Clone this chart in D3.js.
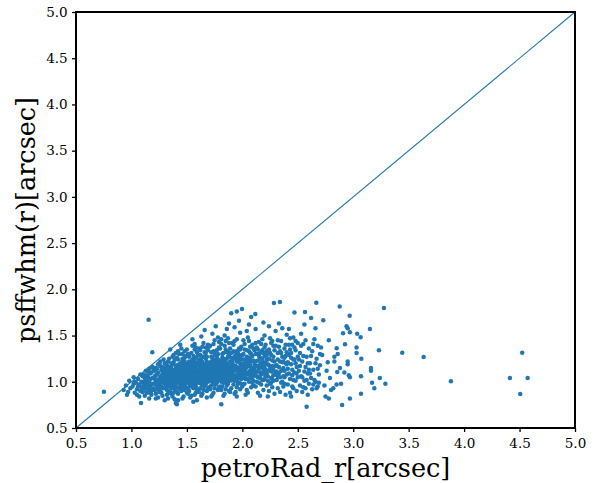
<!DOCTYPE html>
<html><head><meta charset="utf-8">
<script src="https://cdn.jsdelivr.net/npm/d3@7"></script>
<style>body{margin:0;background:#fff}svg{display:block}</style>
</head><body><svg id="c" width="602" height="483"></svg>
<script>
const xTicks=[0.5,1.0,1.5,2.0,2.5,3.0,3.5,4.0,4.5,5.0];
const yTicks=[0.5,1.0,1.5,2.0,2.5,3.0,3.5,4.0,4.5,5.0];
const xLabel="petroRad_r[arcsec]";
const yLabel="psffwhm(r)[arcsec]";
const diagonal=[[0.5,0.5],[5.0,5.0]];
const samples=[
[0.93,0.91],[0.95,0.96],[0.97,0.89],[0.98,1.01],[0.99,0.93],[0.96,0.86],
[1.01,0.95],[1.02,1.05],[1.03,0.88],[1.04,0.99],[1.05,0.92],[1.06,1.03],[1.07,0.84],[1.07,0.97],[1.08,1.08],[1.08,0.90],[1.09,1.00],[1.09,0.94],[1.05,0.86],[1.02,0.98],[1.10,0.89],[1.10,1.06],[1.03,1.00],[1.06,0.95],
[1.11,0.97],[1.11,1.08],[1.12,0.85],[1.12,0.93],[1.13,1.02],[1.13,1.12],[1.14,0.88],[1.14,0.99],[1.15,1.05],[1.15,0.91],[1.16,1.14],[1.16,0.82],[1.17,0.96],[1.17,1.03],[1.18,0.90],[1.18,1.10],[1.19,0.98],[1.19,1.16],[1.12,1.00],[1.14,1.07],[1.16,0.94],[1.18,0.86],[1.11,0.90],[1.13,0.95],[1.15,1.11],[1.17,0.88],[1.19,1.04],[1.20,0.93],[1.20,1.13],[1.16,1.00],
[1.21,0.98],[1.21,1.06],[1.22,0.87],[1.22,1.15],[1.23,0.92],[1.23,1.02],[1.24,1.10],[1.24,0.83],[1.25,0.97],[1.25,1.20],[1.26,0.90],[1.26,1.05],[1.27,1.13],[1.27,0.95],[1.28,0.85],[1.28,1.01],[1.29,1.09],[1.29,1.24],[1.21,0.91],[1.22,1.00],[1.23,1.08],[1.24,0.95],[1.25,1.03],[1.26,1.17],[1.27,0.88],[1.28,1.11],[1.29,0.93],[1.30,1.04],[1.30,0.98],[1.22,0.82],[1.24,1.19],[1.26,0.99],[1.28,1.06],[1.23,0.96],[1.25,0.89],[1.27,1.02],[1.29,1.15],[1.21,1.12],[1.30,0.80],[1.26,1.22],
[1.31,1.07],[1.31,0.93],[1.32,1.18],[1.32,0.86],[1.33,1.00],[1.33,1.12],[1.34,0.95],[1.34,1.25],[1.35,1.05],[1.35,0.89],[1.36,1.15],[1.36,0.98],[1.37,1.09],[1.37,0.84],[1.38,1.21],[1.38,1.02],[1.39,0.92],[1.39,1.13],[1.40,1.31],[1.40,1.06],[1.31,1.01],[1.32,1.10],[1.33,0.90],[1.34,1.04],[1.35,1.16],[1.36,0.87],[1.37,1.00],[1.38,0.95],[1.39,1.08],[1.31,0.97],[1.33,1.22],[1.35,0.99],[1.37,1.27],[1.39,0.81],[1.32,1.03],[1.34,1.13],[1.36,1.06],[1.38,1.11],[1.40,0.94],[1.35,1.35],[1.33,0.82],[1.37,1.19],[1.39,1.01],[1.31,1.14],[1.36,0.93],[1.38,0.88],[1.34,1.09],[1.40,1.17],[1.32,0.96],[1.36,1.03],
[1.41,0.99],[1.41,1.12],[1.42,0.87],[1.42,1.24],[1.43,1.05],[1.43,0.93],[1.44,1.17],[1.44,1.01],[1.45,0.90],[1.45,1.36],[1.46,1.08],[1.46,0.96],[1.47,1.20],[1.47,0.84],[1.48,1.03],[1.48,1.14],[1.49,0.94],[1.49,1.28],[1.50,1.06],[1.50,0.88],[1.41,1.04],[1.42,1.09],[1.43,1.30],[1.44,0.92],[1.45,1.11],[1.46,1.02],[1.47,0.98],[1.48,1.22],[1.49,1.10],[1.42,0.80],[1.44,1.07],[1.46,1.15],[1.48,0.91],[1.50,1.00],[1.41,1.18],[1.43,0.99],[1.45,1.03],[1.47,1.12],[1.49,1.05],[1.41,0.89],[1.43,1.14],[1.45,0.95],[1.47,1.06],[1.49,0.99],[1.44,1.40],[1.46,0.82],[1.48,1.33],[1.42,1.02],[1.50,1.19],[1.40,0.77],[1.46,1.25],[1.43,1.09],[1.47,0.93],[1.49,1.16],[1.41,1.26],
[1.51,1.02],[1.51,1.13],[1.52,0.90],[1.52,1.27],[1.53,1.07],[1.53,0.96],[1.54,1.18],[1.54,0.85],[1.55,1.01],[1.55,1.39],[1.56,1.10],[1.56,0.93],[1.57,1.22],[1.57,1.04],[1.58,0.88],[1.58,1.15],[1.59,0.99],[1.59,1.32],[1.60,1.08],[1.60,0.91],[1.51,1.08],[1.52,0.98],[1.53,1.20],[1.54,1.05],[1.55,0.94],[1.56,1.16],[1.57,0.97],[1.58,1.03],[1.59,1.12],[1.51,0.93],[1.53,1.11],[1.55,1.24],[1.57,0.86],[1.59,1.06],[1.52,1.05],[1.54,1.12],[1.56,1.00],[1.58,1.09],[1.60,1.21],[1.51,1.30],[1.53,0.83],[1.55,1.07],[1.57,1.14],[1.59,0.92],[1.52,1.16],[1.54,0.97],[1.56,1.04],[1.58,1.26],[1.60,1.01],[1.55,1.46],[1.57,1.35],[1.53,1.02],[1.59,0.80],[1.51,0.87],[1.56,1.22],[1.58,0.95],
[1.61,1.05],[1.61,1.17],[1.62,0.93],[1.62,1.29],[1.63,1.09],[1.63,0.98],[1.64,1.21],[1.64,0.87],[1.65,1.03],[1.65,1.42],[1.66,1.12],[1.66,0.95],[1.67,1.25],[1.67,1.06],[1.68,0.90],[1.68,1.18],[1.69,1.00],[1.69,1.34],[1.70,1.10],[1.70,0.94],[1.61,0.99],[1.62,1.11],[1.63,1.23],[1.64,1.04],[1.65,0.91],[1.66,1.19],[1.67,1.01],[1.68,1.08],[1.69,1.15],[1.61,1.36],[1.63,0.85],[1.65,1.13],[1.67,0.97],[1.69,1.05],[1.62,1.02],[1.64,1.14],[1.66,1.07],[1.68,1.27],[1.70,1.02],[1.61,0.89],[1.63,1.16],[1.65,1.08],[1.67,1.31],[1.69,0.92],[1.62,1.20],[1.64,0.96],[1.66,1.00],[1.68,1.12],[1.70,1.19],[1.63,1.49],[1.66,1.56],[1.64,1.38],[1.68,0.83],[1.62,1.07],[1.67,1.15],[1.69,1.40],[1.61,1.24],
[1.71,1.08],[1.71,1.20],[1.72,0.96],[1.72,1.32],[1.73,1.11],[1.73,1.00],[1.74,1.24],[1.74,0.88],[1.75,1.05],[1.75,1.45],[1.76,1.14],[1.76,0.97],[1.77,1.28],[1.77,1.07],[1.78,0.91],[1.78,1.19],[1.79,1.02],[1.79,1.37],[1.80,1.12],[1.80,0.95],[1.71,1.01],[1.72,1.13],[1.73,1.26],[1.74,1.06],[1.75,0.93],[1.76,1.21],[1.77,1.03],[1.78,1.10],[1.79,1.17],[1.71,1.39],[1.73,0.86],[1.75,1.15],[1.77,0.99],[1.79,1.07],[1.72,1.04],[1.74,1.16],[1.76,1.09],[1.78,1.30],[1.80,1.03],[1.71,0.92],[1.73,1.18],[1.75,1.10],[1.77,1.34],[1.79,0.94],[1.72,1.22],[1.74,0.98],[1.76,1.02],[1.78,1.14],[1.80,1.23],[1.73,1.52],[1.76,1.60],[1.78,1.48],[1.72,0.84],[1.77,1.17],[1.79,1.43],
[1.81,1.06],[1.81,1.19],[1.82,0.95],[1.82,1.30],[1.83,1.10],[1.83,0.99],[1.84,1.23],[1.84,0.87],[1.85,1.04],[1.85,1.44],[1.86,1.13],[1.86,0.96],[1.87,1.27],[1.87,1.08],[1.88,0.90],[1.88,1.18],[1.89,1.01],[1.89,1.36],[1.90,1.11],[1.90,0.93],[1.81,1.00],[1.82,1.12],[1.83,1.25],[1.84,1.05],[1.85,0.92],[1.86,1.20],[1.87,1.02],[1.88,1.09],[1.89,1.16],[1.81,1.41],[1.83,0.85],[1.85,1.14],[1.87,0.98],[1.89,1.06],[1.82,1.03],[1.84,1.15],[1.86,1.08],[1.88,1.29],[1.90,1.04],[1.81,0.91],[1.83,1.17],[1.85,1.09],[1.87,1.33],[1.89,0.89],[1.84,1.50],[1.86,1.57],[1.88,1.63],[1.82,1.21],[1.87,1.47],[1.90,1.26],
[1.91,1.09],[1.91,1.21],[1.92,0.97],[1.92,1.33],[1.93,1.12],[1.93,1.01],[1.94,1.25],[1.94,0.89],[1.95,1.06],[1.95,1.46],[1.96,1.15],[1.96,0.98],[1.97,1.29],[1.97,1.10],[1.98,0.92],[1.98,1.20],[1.99,1.03],[1.99,1.38],[2.00,1.13],[2.00,0.95],[1.91,1.02],[1.92,1.14],[1.93,1.27],[1.94,1.07],[1.95,0.94],[1.96,1.22],[1.97,1.04],[1.98,1.11],[1.99,1.18],[1.91,1.42],[1.93,0.87],[1.95,1.16],[1.97,0.99],[1.99,1.08],[1.92,1.05],[1.94,1.17],[1.96,1.31],[1.98,1.53],[2.00,1.06],[1.93,1.59],[1.97,1.66],[1.95,0.84],[1.99,1.24],
[2.01,1.10],[2.01,1.24],[2.02,0.98],[2.02,1.35],[2.03,1.14],[2.03,1.03],[2.04,1.27],[2.04,0.91],[2.05,1.08],[2.05,1.48],[2.06,1.17],[2.06,1.00],[2.07,1.31],[2.07,1.12],[2.08,0.94],[2.08,1.22],[2.09,1.05],[2.09,1.40],[2.10,1.15],[2.10,0.96],[2.01,1.04],[2.03,1.19],[2.05,0.88],[2.07,1.07],[2.09,1.28],[2.02,1.11],[2.04,1.55],[2.06,1.62],[2.08,1.70],[2.10,1.01],[2.03,0.86],[2.06,1.26],[2.08,1.09],[2.01,1.45],[2.05,1.21],
[2.11,1.07],[2.11,1.19],[2.12,0.95],[2.12,1.30],[2.13,1.11],[2.13,1.00],[2.14,1.23],[2.14,0.88],[2.15,1.14],[2.15,1.43],[2.16,1.04],[2.16,1.26],[2.17,0.97],[2.17,1.16],[2.18,1.34],[2.18,1.02],[2.19,1.21],[2.19,0.91],[2.20,1.09],[2.20,1.50],[2.11,1.12],[2.13,1.37],[2.15,0.99],[2.17,1.08],[2.19,1.13],[2.12,1.57],[2.14,1.05],[2.16,0.85],[2.18,1.18],[2.20,1.28],
[2.21,1.06],[2.21,1.20],[2.22,0.96],[2.22,1.33],[2.23,1.12],[2.23,1.01],[2.24,1.25],[2.24,0.90],[2.25,1.15],[2.25,1.47],[2.26,1.04],[2.26,1.29],[2.27,0.94],[2.27,1.17],[2.28,1.39],[2.28,1.07],[2.29,1.22],[2.29,0.87],[2.30,1.10],[2.30,1.55],[2.22,1.09],[2.24,1.60],[2.26,0.99],[2.28,1.13],[2.23,0.84],[2.27,1.03],
[2.31,1.02],[2.31,1.18],[2.32,0.93],[2.32,1.31],[2.33,1.09],[2.34,1.22],[2.34,0.89],[2.35,1.12],[2.35,1.44],[2.36,1.00],[2.36,1.27],[2.37,0.95],[2.37,1.15],[2.38,1.36],[2.38,1.05],[2.39,1.20],[2.39,0.86],[2.40,1.08],[2.40,1.51],[2.33,1.63],[2.36,1.58],[2.38,0.98],[2.32,1.06],
[2.41,1.14],[2.41,0.97],[2.42,1.29],[2.43,1.03],[2.43,0.88],[2.44,1.19],[2.45,1.40],[2.45,1.07],[2.46,0.93],[2.47,1.24],[2.47,1.10],[2.48,1.01],[2.48,1.34],[2.49,0.90],[2.49,1.16],[2.50,1.05],[2.42,1.57],[2.46,1.48],[2.44,0.84],[2.50,1.27],
[2.51,1.12],[2.52,0.96],[2.52,1.31],[2.53,1.06],[2.54,1.22],[2.54,0.89],[2.55,1.41],[2.56,1.01],[2.57,1.16],[2.57,0.93],[2.58,1.27],[2.59,1.09],[2.59,0.86],[2.60,1.36],[2.53,1.52],[2.56,1.62],[2.58,0.73],[2.60,0.98],
[2.61,1.20],[2.62,1.04],[2.63,1.33],[2.63,0.92],[2.64,1.13],[2.65,1.46],[2.66,1.00],[2.67,1.25],[2.68,0.95],[2.68,1.39],[2.69,1.08],[2.70,1.18],[2.66,1.58],[2.69,0.99],[2.62,1.69],
[2.73,1.665],[2.75,0.84],[2.78,0.82],[2.74,0.96],[2.79,1.04],[2.72,1.29],[2.76,1.12],[2.78,1.45],[2.71,1.37],[2.77,1.21]
];
const samplesCore=[
[1.12,1.04],[1.14,0.96],[1.17,1.09],[1.19,0.92],[1.21,1.03],[1.23,1.14],[1.25,0.93],[1.27,1.07],[1.29,0.99],[1.22,1.07],[1.24,1.01],[1.26,0.94],[1.28,1.16],[1.30,1.12],[1.30,1.20],
[1.31,1.04],[1.32,0.91],[1.33,1.07],[1.34,0.99],[1.35,1.10],[1.36,1.20],[1.37,0.96],[1.38,1.06],[1.39,0.97],[1.40,1.10],[1.31,1.20],[1.33,1.15],[1.35,1.02],[1.37,1.12],[1.39,1.24],[1.32,1.13],[1.34,0.88],[1.36,1.10],[1.38,1.00],[1.40,1.02],
[1.41,1.07],[1.42,1.15],[1.43,1.02],[1.44,0.97],[1.45,1.21],[1.46,1.11],[1.47,1.02],[1.48,0.97],[1.49,1.13],[1.50,1.09],[1.41,0.94],[1.43,1.19],[1.45,1.07],[1.47,1.16],[1.49,1.02],[1.42,1.05],[1.44,1.12],[1.46,0.99],[1.48,1.07],[1.50,1.14],
[1.51,1.05],[1.52,1.10],[1.53,0.99],[1.54,1.08],[1.55,1.13],[1.56,0.97],[1.57,1.08],[1.58,1.19],[1.59,1.03],[1.60,1.12],[1.51,1.17],[1.53,1.04],[1.55,1.18],[1.57,1.01],[1.59,1.09],[1.52,1.01],[1.54,1.21],[1.56,1.13],[1.58,1.06],[1.60,1.04],[1.55,0.98],[1.57,1.26],[1.53,1.14],
[1.61,1.09],[1.62,1.14],[1.63,1.02],[1.64,1.10],[1.65,1.18],[1.66,1.04],[1.67,1.10],[1.68,1.02],[1.69,1.20],[1.70,1.06],[1.61,1.02],[1.63,1.12],[1.65,0.97],[1.67,1.19],[1.69,1.11],[1.62,1.24],[1.64,1.00],[1.66,1.15],[1.68,1.05],[1.70,1.14],[1.65,1.27],[1.63,1.06],
[1.71,1.11],[1.72,1.17],[1.73,1.05],[1.74,1.12],[1.75,1.20],[1.76,1.06],[1.77,1.12],[1.78,1.03],[1.79,1.22],[1.80,1.08],[1.71,1.04],[1.73,1.14],[1.75,0.99],[1.77,1.24],[1.79,1.12],[1.72,1.08],[1.74,1.02],[1.76,1.17],[1.78,1.07],[1.80,1.16],[1.75,1.30],[1.74,1.33],
[1.81,1.10],[1.82,1.16],[1.83,1.04],[1.84,1.11],[1.85,1.19],[1.86,1.04],[1.87,1.13],[1.88,1.02],[1.89,1.22],[1.90,1.07],[1.81,1.14],[1.83,1.21],[1.85,0.99],[1.87,1.17],[1.89,1.11],[1.82,1.07],[1.84,1.00],[1.86,1.25],[1.88,1.14],[1.90,1.17],[1.85,1.35],[1.83,1.31],
[1.91,1.13],[1.92,1.18],[1.93,1.06],[1.94,1.13],[1.95,1.22],[1.96,1.07],[1.97,1.15],[1.98,1.04],[1.99,1.13],[2.00,1.19],[1.91,1.06],[1.93,1.16],[1.95,1.01],[1.97,1.22],[1.99,0.98],[1.92,1.25],[1.94,1.02],[1.96,1.11],[1.98,1.26],[2.00,1.10],[1.95,1.33],[1.97,1.36],
[2.01,1.16],[2.02,1.20],[2.03,1.08],[2.04,1.16],[2.05,1.25],[2.06,1.09],[2.07,1.18],[2.08,1.04],[2.09,1.12],[2.10,1.23],[2.01,1.30],[2.03,1.24],[2.05,1.03],[2.07,1.38],[2.09,0.99],[2.02,1.06],[2.04,1.10],[2.06,1.33],[2.08,1.15],[2.10,1.08],
[2.11,1.15],[2.12,1.22],[2.13,1.06],[2.14,1.17],[2.15,1.28],[2.16,1.10],[2.17,1.21],[2.18,1.09],[2.19,1.31],[2.20,1.16],[2.11,1.34],[2.13,1.17],[2.15,1.05],[2.17,1.41],[2.19,1.02],[2.12,1.10],[2.14,1.30],[2.16,1.19],[2.18,1.25],[2.20,1.03],
[2.21,1.13],[2.22,1.24],[2.23,1.06],[2.24,1.18],[2.25,1.31],[2.26,1.11],[2.27,1.23],[2.28,1.01],[2.29,1.34],[2.30,1.17],[2.21,1.40],[2.23,1.19],[2.25,0.98],[2.27,1.44],[2.29,1.08],
[2.31,1.11],[2.32,1.24],[2.33,1.16],[2.34,1.05],[2.35,1.31],[2.36,1.13],[2.37,1.22],[2.38,1.12],[2.39,1.40],[2.40,1.19],[2.33,1.38],[2.35,0.99],[2.37,1.06],[2.39,1.28],
[2.41,1.21],[2.42,1.09],[2.43,1.35],[2.44,1.26],[2.45,1.13],[2.46,1.02],[2.47,1.37],[2.48,1.20],[2.49,1.09],[2.50,1.42],[2.43,1.47],[2.45,0.95],
[2.51,1.24],[2.52,1.17],[2.53,1.39],[2.54,1.05],[2.55,1.28],[2.56,1.11],[2.57,1.45],[2.58,1.02],[2.59,1.20],[2.60,1.13],[2.55,0.94],
[2.61,1.09],[2.62,1.28],[2.64,1.41],[2.65,1.02],[2.66,1.20],[2.67,0.93],[2.68,1.14],[2.70,1.30],[2.64,0.97]
];
const samplesUpper=[
[1.38,1.29],[1.42,1.33],[1.46,1.30],[1.50,1.35],[1.52,1.22],[1.54,1.31],[1.56,1.28],[1.58,1.37],[1.60,1.29],[1.62,1.34],[1.64,1.27],[1.66,1.32],[1.68,1.22],[1.70,1.38],[1.72,1.27],[1.74,1.41],[1.76,1.29],[1.78,1.24],[1.80,1.36],[1.82,1.26],[1.84,1.39],[1.86,1.32],[1.88,1.42],[1.90,1.31],[1.92,1.40],[1.94,1.30],[1.96,1.26],[1.98,1.35],[2.00,1.29],[2.02,1.41],[2.04,1.34],[2.06,1.44],[2.08,1.30],[2.10,1.36],[2.12,1.42],[2.14,1.35],[2.16,1.31],[2.18,1.46],[2.20,1.37],[2.22,1.29],[2.24,1.35],[2.26,1.42],[2.28,1.27],[2.30,1.39],[2.32,1.45],[2.34,1.33],[2.36,1.21],[2.38,1.26],[2.40,1.32],[2.42,1.40],[2.44,1.31],[2.46,1.24],[2.48,1.44],[1.48,1.26],[1.57,1.41],[1.67,1.37],[1.81,1.46],[1.93,1.44],[2.07,1.24],[2.23,1.24]
];
const samplesOuter=[
[2.80,0.91],[2.82,0.93],[2.85,0.97],[2.856,1.106],[2.83,1.27],[2.83,1.22],[2.851,1.362],[2.878,1.813],[2.908,1.524],[2.926,1.405],[2.94,1.60],[2.95,1.58],[2.97,1.535],[2.968,1.715],[2.95,1.22],[2.95,1.19],[2.97,1.05],[2.96,1.07],[2.97,0.82],[2.90,0.75],[3.03,1.37],[3.03,1.31],[3.036,1.52],[3.067,1.481],[3.073,1.25],[3.07,1.06],[3.07,0.87],[3.151,1.571],[3.16,1.15],[3.16,1.12],[3.17,0.99],[3.19,0.93],[3.232,1.34],[3.24,1.04],[3.29,0.98],[3.277,1.798],[3.442,1.315],[3.635,1.268],[3.881,1.005],[4.413,1.041],[4.524,1.315],[4.573,1.041],[4.506,0.868],[2.88,1.15],[2.86,1.30],[2.92,1.10],[2.89,0.98],
[2.285,1.852],[2.339,1.863],[2.667,1.856],[2.565,1.755],[2.117,1.733],[1.90,1.74],[1.95,1.76],[1.997,1.787],[2.47,1.75],[2.19,1.64],[1.188,1.32],[1.155,1.67],[0.752,0.893],[1.086,0.77],[1.41,0.757],[1.558,0.785],[1.81,0.756]
];
const allSamples=samples.concat(samplesCore,samplesUpper,samplesOuter);

const W=602,H=483,m={l:76,r:27,t:12,b:55};
const svg=d3.select("#c");
const x=d3.scaleLinear().domain([0.5,5.0]).range([m.l,W-m.r]);
const y=d3.scaleLinear().domain([0.5,5.0]).range([H-m.b,m.t]);
const col="#1f77b4";
const font="DejaVu Serif, serif";

svg.append("g").selectAll("circle").data(allSamples).join("circle")
  .attr("cx",d=>x(d[0])).attr("cy",d=>y(d[1])).attr("r",2.25).attr("fill",col);

svg.append("path").datum(diagonal).attr("fill","none").attr("stroke",col).attr("stroke-width",1.1)
  .attr("d",d3.line().x(d=>x(d[0])).y(d=>y(d[1])));

const fmt=d3.format(".1f");
const gx=svg.append("g").attr("transform",`translate(0,${H-m.b})`)
  .call(d3.axisBottom(x).tickValues(xTicks).tickFormat(fmt).tickSize(4).tickSizeOuter(0));
const gy=svg.append("g").attr("transform",`translate(${m.l},0)`)
  .call(d3.axisLeft(y).tickValues(yTicks).tickFormat(fmt).tickSize(4).tickSizeOuter(0));
[gx,gy].forEach(g=>{
  g.select(".domain").remove();
  g.selectAll(".tick line").attr("stroke","#000").attr("stroke-width",1.3);
  g.selectAll(".tick text").attr("font-family",font).attr("font-size",13.5).attr("fill","#000");
});
gx.selectAll(".tick text").attr("dy","0.95em");
gy.selectAll(".tick text").attr("dx","-0.1em");

svg.append("rect").attr("x",m.l).attr("y",m.t).attr("width",W-m.l-m.r).attr("height",H-m.t-m.b)
  .attr("fill","none").attr("stroke","#000").attr("stroke-width",2);

svg.append("text").attr("x",(m.l+W-m.r)/2).attr("y",477).attr("text-anchor","middle")
  .attr("font-family",font).attr("font-size",25.5).text(xLabel);
svg.append("text").attr("transform",`translate(35,${(m.t+H-m.b)/2}) rotate(-90)`).attr("text-anchor","middle")
  .attr("font-family",font).attr("font-size",25.5).text(yLabel);
</script></body></html>
